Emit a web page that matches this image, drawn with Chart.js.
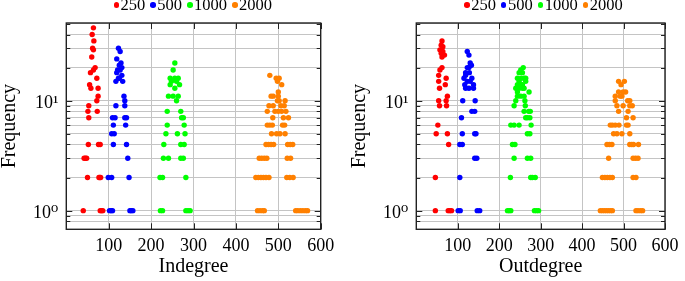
<!DOCTYPE html>
<html>
<head>
<meta charset="utf-8">
<script src="https://cdn.jsdelivr.net/npm/chart.js@4.4.1/dist/chart.umd.min.js"></script>
<style>
  html, body { margin: 0; padding: 0; background: #fff; }
  body { width: 685px; height: 281px; position: relative; overflow: hidden; font-family: 'Liberation Serif', serif; }
  canvas { position: absolute; top: 0; }
  #cIn { left: 0; }
  #cOut { left: 350px; }
  .legend { position: absolute; top: -3px; display: flex; align-items: center; font-size: 16.5px; line-height: 16px; white-space: nowrap; color: #000; }
  .legend .item { display: flex; align-items: center; margin-right: 5px; }
  .legend .dot { width: 5.5px; height: 5.5px; border-radius: 50%; margin-right: 1.5px; }
</style>
</head>
<body>
<canvas id="cIn" width="350" height="281"></canvas>
<canvas id="cOut" width="335" height="281"></canvas>
<div class="legend" id="legIn" style="left:113.5px"></div>
<div class="legend" id="legOut" style="left:464.2px"></div>
<script>
// series = number of nodes
const groupSizes = ['250', '500', '1000', '2000'];

// x axis ticks and y (log) grid values
const xTickValues = [100, 200, 300, 400, 500, 600];
const yGridValues = [0.8, 0.9, 1, 2, 3, 4, 5, 6, 7, 8, 9, 10, 20, 30, 40, 50];
const yLabelValues = [1, 10];
const yLabelTexts = ['10⁰', '10¹'];

// Indegree: degree / frequency pairs
const in250Deg = [64,61,65,62,64,60,68,64,57,72,55,58,75,75,72,53,51,73,53,52,76,80,42,45,48,50,77,79,81,40,80,83,86];
const in250Freq = [46,40,35,30,29,25,20,19,18,16,14,13,13,11,10,9,8,8,7,4,4,4,3,3,3,2,2,2,2,1,1,1,1];
const in500Deg = [123,127,119,129,125,131,121,127,119,131,125,123,117,133,136,138,138,117,109,115,138,142,111,140,107,113,111,142,145,99,107,148,102,106,109,150,153,157];
const in500Freq = [30,28,24,22,21,20,19,19,18,17,16,16,15,15,11,10,9,9,7,7,7,7,6,6,5,5,4,4,3,2,2,2,1,1,1,1,1,1];
const in1000Deg = [256,252,245,256,264,248,260,245,256,267,241,252,264,260,238,270,272,276,238,278,235,262,280,230,270,278,229,241,270,276,221,227,282,222,227,282,287,292];
const in1000Freq = [22,19,16,16,16,15,15,14,13,14,11,11,11,10,8,8,7,7,6,6,5,5,5,4,4,4,3,3,3,3,2,2,2,1,1,1,1,1];
const in2000Deg = [480,495,502,498,508,500,483,488,500,502,498,516,478,488,506,514,474,492,500,508,518,487,512,524,474,480,486,510,515,484,496,504,516,471,477,483,489,522,528,534,455,461,467,473,521,529,447,453,459,465,471,478,520,527,535,451,457,463,467,541,546,552,558,564,569];
const in2000Freq = [17,16,16,15,14,12,11,11,11,10,10,10,9,9,9,9,8,8,8,8,8,7,7,7,6,6,6,6,6,5,5,5,5,4,4,4,4,4,4,4,3,3,3,3,3,3,2,2,2,2,2,2,2,2,2,1,1,1,1,1,1,1,1,1,1];

// Outdegree
const out250Deg = [62,60,64,57,64,60,68,62,62,57,54,72,54,70,56,75,54,72,56,73,52,48,75,78,46,46,77,81,85];
const out250Freq = [35,32,31,29,28,27,26,25,20,19,17,16,15,14,13,11,10,10,9,9,6,5,5,4,2,1,1,1,1];
const out500Deg = [123,127,130,133,127,123,119,128,119,115,134,130,123,138,117,127,119,138,112,142,134,141,109,111,141,144,105,111,141,146,105,101,106,147,153];
const out500Freq = [28,26,22,21,20,20,18,18,17,16,16,15,15,14,14,13,13,13,10,10,8,8,7,5,5,5,4,4,3,3,2,1,1,1,1];
const out1000Deg = [258,252,248,256,260,244,253,264,264,248,244,252,256,240,248,256,260,244,272,252,260,244,240,262,236,263,260,271,275,264,268,274,228,236,248,277,268,274,232,238,236,268,276,227,276,280,287,220,224,228,285,290,295];
const out1000Freq = [20,19,18,18,16,16,16,16,15,15,14,14,14,13,13,13,13,12,12,11,11,11,10,10,9,9,8,8,8,7,7,7,6,6,6,6,5,5,4,4,3,3,3,2,2,2,2,1,1,1,1,1,1];
const out2000Deg = [488,502,494,488,499,505,480,492,496,480,510,515,484,499,515,521,488,511,507,523,468,473,480,489,507,511,476,484,496,515,460,466,472,515,520,524,536,464,523,529,535,449,455,461,467,473,523,530,444,449,454,459,464,469,473,530,535,541,546];
const out2000Freq = [15,15,14,12,12,12,11,11,11,10,10,10,9,9,9,9,8,8,7,7,6,6,6,6,6,6,5,5,5,5,4,4,4,4,4,4,4,3,3,3,3,2,2,2,2,2,2,2,1,1,1,1,1,1,1,1,1,1,1];

const groupColors = ['#ff0000', '#0000ff', '#00ff00', '#ff8000'];
const FONT = "'Liberation Serif', 'DejaVu Serif', serif";
const gridColor = '#c4c4c4';

Chart.defaults.font.family = FONT;
Chart.defaults.color = '#000';

// box around the plot area plus inward tick marks (pgfplots style)
const framePlugin = {
  id: 'frame',
  beforeDatasetsDraw(chart) {
    const { ctx, chartArea: a, scales: { x, y } } = chart;
    ctx.save();
    ctx.strokeStyle = '#222';
    ctx.lineWidth = 1;
    ctx.beginPath();
    x.ticks.forEach((t) => {
      const px = Math.round(x.getPixelForValue(t.value)) + 0.5;
      ctx.moveTo(px, a.top); ctx.lineTo(px, a.top + 6);
      ctx.moveTo(px, a.bottom); ctx.lineTo(px, a.bottom - 6);
    });
    y.ticks.forEach((t) => {
      const py = Math.round(y.getPixelForValue(t.value)) + 0.5;
      const len = yLabelValues.includes(t.value) ? 6 : 4;
      ctx.moveTo(a.left, py); ctx.lineTo(a.left + len, py);
      ctx.moveTo(a.right, py); ctx.lineTo(a.right - len, py);
    });
    ctx.stroke();
    ctx.lineWidth = 1.4;
    ctx.strokeRect(a.left, a.top, a.right - a.left, a.bottom - a.top);
    ctx.restore();
  },
};

function makePanel(canvasId, title, degLists, freqLists, rightPad) {
  const datasets = groupSizes.map((g, i) => ({
    label: g,
    data: degLists[i].map((d, j) => ({ x: d, y: freqLists[i][j] })),
    backgroundColor: groupColors[i],
    borderColor: groupColors[i],
    borderWidth: 0,
    pointRadius: 2.7,
    pointHoverRadius: 2.7,
  }));

  return new Chart(document.getElementById(canvasId), {
    type: 'scatter',
    data: { datasets },
    options: {
      responsive: false,
      animation: false,
      events: [],
      layout: { padding: { left: 0, right: rightPad, top: 23, bottom: 0 } },
      plugins: { legend: { display: false }, tooltip: { enabled: false } },
      scales: {
        x: {
          type: 'linear',
          min: 0,
          max: 600,
          afterBuildTicks(s) { s.ticks = xTickValues.map((v) => ({ value: v })); },
          afterFit(s) { s.height = 51.7; },
          grid: { color: gridColor, lineWidth: 1, drawTicks: false },
          border: { display: false },
          ticks: { color: '#000', font: { size: 18 }, padding: 6.5, maxRotation: 0, autoSkip: false },
          title: {
            display: true, text: title, color: '#000',
            font: { size: 20, lineHeight: 1 }, padding: { top: 0, bottom: 4.5 },
          },
        },
        y: {
          type: 'logarithmic',
          min: 0.677,
          max: 50.9,
          afterBuildTicks(s) { s.ticks = yGridValues.map((v) => ({ value: v })); },
          afterFit(s) { s.width = 66.3; },
          grid: { color: gridColor, lineWidth: 1, drawTicks: false },
          border: { display: false },
          ticks: {
            color: '#000',
            font: { size: 18, lineHeight: 1 },
            padding: 8,
            labelOffset: 3,
            autoSkip: false,
            callback(v) {
              const k = yLabelValues.indexOf(v);
              return k >= 0 ? yLabelTexts[k] : '';
            },
          },
          title: {
            display: true, text: 'Frequency', color: '#000',
            font: { size: 20, lineHeight: 1 }, padding: 0,
          },
        },
      },
    },
    plugins: [framePlugin],
  });
}

function buildLegend(id) {
  const el = document.getElementById(id);
  groupSizes.forEach((g, i) => {
    const item = document.createElement('span');
    item.className = 'item';
    const dot = document.createElement('span');
    dot.className = 'dot';
    dot.style.background = groupColors[i];
    const txt = document.createElement('span');
    txt.textContent = g;
    item.appendChild(dot);
    item.appendChild(txt);
    el.appendChild(item);
  });
}

makePanel('cIn', 'Indegree',
  [in250Deg, in500Deg, in1000Deg, in2000Deg],
  [in250Freq, in500Freq, in1000Freq, in2000Freq], 29.3);
makePanel('cOut', 'Outdegree',
  [out250Deg, out500Deg, out1000Deg, out2000Deg],
  [out250Freq, out500Freq, out1000Freq, out2000Freq], 14);
buildLegend('legIn');
buildLegend('legOut');
</script>
</body>
</html>
